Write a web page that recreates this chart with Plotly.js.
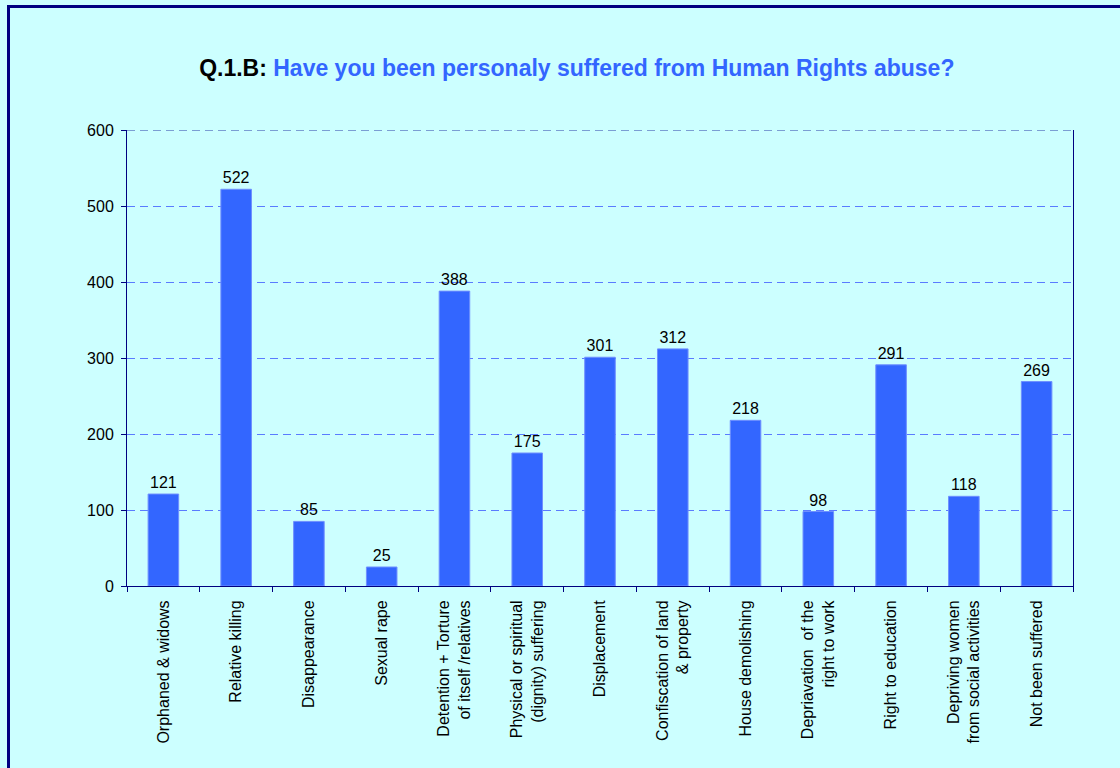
<!DOCTYPE html>
<html>
<head>
<meta charset="utf-8">
<script src="https://cdn.plot.ly/plotly-3.0.1.min.js"></script>
<style>
  html, body { margin: 0; padding: 0; background: #CCFFFF; overflow: hidden; }
  #chart { width: 1120px; height: 768px; }
  #frame { position: absolute; left: 7px; top: 5px; width: 1300px; height: 1000px;
           border-left: 3px solid #000080; border-top: 3px solid #000080; pointer-events: none; }
</style>
</head>
<body>
<div id="chart"></div>
<div id="frame"></div>
<script>
const categories = [
  "Orphaned & widows",
  "Relative killing",
  "Disappearance",
  "Sexual rape",
  "Detention + Torture<br>of itself /relatives",
  "Physical or spiritual<br>(dignity) suffering",
  "Displacement",
  "Confiscation of land<br>& property",
  "House demolishing",
  "Depriavation  of the<br>right to work",
  "Right to education",
  "Depriving women<br>from social activities",
  "Not been suffered"
];
const values = [121, 522, 85, 25, 388, 175, 301, 312, 218, 98, 291, 118, 269];
const yTicks = [0, 100, 200, 300, 400, 500, 600];

const trace = {
  type: "bar",
  x: categories,
  y: values,
  text: values.map(String),
  textposition: "outside",
  cliponaxis: false,
  textfont: { family: "Liberation Sans, Arial, sans-serif", size: 16, color: "#000000" },
  marker: { color: "#3366FF", line: { color: "#6F8FFF", width: 1 } },
  hoverinfo: "x+y"
};

const layout = {
  width: 1120,
  height: 768,
  paper_bgcolor: "#CCFFFF",
  plot_bgcolor: "#CCFFFF",
  margin: { l: 127, r: 47, t: 130, b: 182 },
  bargap: 0.58,
  showlegend: false,
  font: { family: "Liberation Sans, Arial, sans-serif", size: 16, color: "#000000" },
  title: {
    text: "<b><span style='color:#000000'>Q.1.B:</span> Have you been personaly suffered from Human Rights abuse?</b>",
    font: { family: "Liberation Sans, Arial, sans-serif", size: 23, color: "#3366FF" },
    x: 0.515, xanchor: "center",
    y: 1 - 68 / 768, yref: "container", yanchor: "middle"
  },
  xaxis: {
    type: "category",
    tickangle: -90,
    showline: true, linecolor: "#000080", linewidth: 1,
    ticks: "outside", tickson: "boundaries", ticklen: 5, tickcolor: "#000080",
    showgrid: false,
    tickfont: { size: 16, color: "#000000" },
    ticklabelstandoff: 7
  },
  yaxis: {
    range: [0, 600],
    tickvals: yTicks,
    ticktext: yTicks.map(String),
    showline: true, mirror: true, linecolor: "#000080", linewidth: 1,
    ticks: "outside", ticklen: 5, tickcolor: "#000080",
    showgrid: true, gridcolor: "#5A7BFF", gridwidth: 1, griddash: "8px,5px",
    zeroline: false,
    ticklabelstandoff: 4,
    tickfont: { size: 16, color: "#000000" }
  },
  shapes: [
    { type: "line", xref: "paper", yref: "y", x0: 0, x1: 1, y0: 600, y1: 600,
      line: { color: "#2A3FA8", width: 1, dash: "8px,5px" } }
  ]
};

Plotly.newPlot("chart", [trace], layout, { displayModeBar: false, staticPlot: true });
</script>
</body>
</html>
